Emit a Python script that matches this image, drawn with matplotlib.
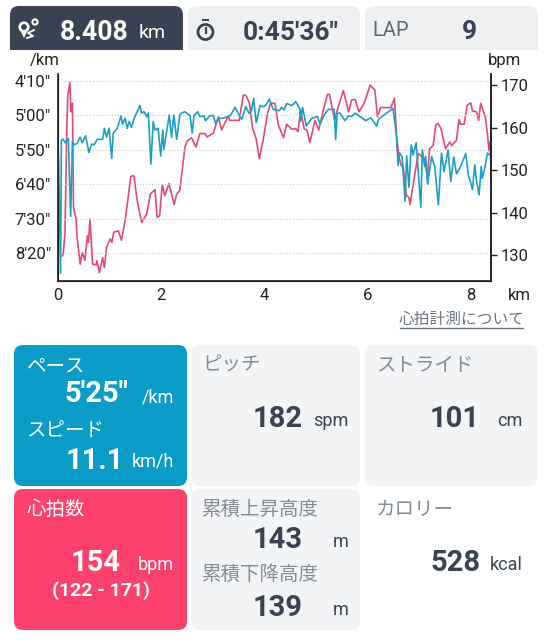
import matplotlib
matplotlib.use('Agg')
import matplotlib.pyplot as plt
from matplotlib.patches import FancyBboxPatch, Rectangle, Circle, Polygon

plt.rcParams['font.family'] = ['Roboto', 'Noto Sans CJK JP', 'DejaVu Sans']

hr_km = [.08,.10,.135,.17,.19,.23,.25,.28,.30,.35,.37,.43,.47,.52,.57,.59,.62,.67,.74,.755,.80,.865,.90,.94,1.01,1.045,1.08,1.17,1.23,1.30,1.36,1.41,1.47,1.535,1.62,1.72,1.79,1.88,1.92,1.97,2.02,2.07,2.15,2.25,2.30,2.36,2.46,2.506,2.59,2.674,2.75,2.85,2.89,3.01,3.107,3.17,3.30,3.33,3.51,3.59,3.64,3.71,3.77,3.84,3.90,3.98,4.06,4.12,4.205,4.27,4.37,4.43,4.53,4.61,4.65,4.70,4.77,4.82,4.88,4.98,5.05,5.14,5.22,5.26,5.36,5.43,5.53,5.63,5.69,5.76,5.83,5.93,6.05,6.14,6.19,6.25,6.45,6.52,6.56,6.61,6.65,6.69,6.75,6.80,6.82,6.90,6.98,7.09,7.16,7.20,7.27,7.32,7.36,7.42,7.51,7.59,7.63,7.72,7.77,7.80,7.87,7.93,8.0,8.03,8.11,8.15,8.19,8.28,8.32,8.35,8.37,8.39]
hr_bpm = [129.8,130.2,135,159.4,167.6,170.6,163.7,165.7,141.3,138.5,134.2,127.9,130.6,128.8,134.6,133,138.5,127.9,127.7,128.7,125.9,129.4,127.1,131.8,133.8,133,135.4,135.7,133.5,138.1,143.6,148.5,148.7,142.8,137.7,139.7,144.4,145.4,138.9,139.3,146.6,144,146.8,141.9,144.4,145.2,155.4,156.9,157.6,155.4,158.6,158.6,157.8,158.7,162.5,159.5,162.7,161.7,161.7,167.6,167.6,165.7,159.8,157.4,152.7,157.4,163.3,165.7,165.7,160.6,157.6,160.8,159.6,159.8,159,164.1,159.7,159.5,156.5,161.7,159.4,164.1,167.8,167.8,161.7,164.9,168.7,163.7,166.5,166.6,163.7,165.7,170,168.8,162.5,164.7,164.7,166.9,157.8,153,151.1,150.6,144,143.6,141.9,148,153.9,152.9,148.7,155,155.8,160.6,161,159.8,155,156.6,155.8,157,161.9,160.8,160.8,165.3,165.8,163.9,163.7,161.7,165.7,162.5,158.6,154.6,156.6,150]

pace_km = [.01,.05,.065,.10,.14,.20,.245,.28,.31,.37,.43,.47,.535,.60,.65,.70,.76,.865,.90,.94,.99,1.04,1.07,1.15,1.22,1.25,1.30,1.34,1.38,1.425,1.48,1.59,1.62,1.665,1.72,1.75,1.80,1.845,1.88,1.94,1.99,2.03,2.05,2.10,2.155,2.20,2.245,2.30,2.36,2.39,2.46,2.56,2.60,2.635,2.706,2.75,2.83,2.855,2.945,3.01,3.06,3.107,3.19,3.30,3.346,3.43,3.51,3.56,3.64,3.70,3.75,3.79,3.84,3.915,3.98,4.03,4.095,4.17,4.29,4.33,4.38,4.43,4.53,4.61,4.69,4.70,4.74,4.81,4.915,5.025,5.08,5.155,5.24,5.35,5.38,5.41,5.465,5.56,5.63,5.69,5.76,5.85,5.96,6.06,6.175,6.21,6.49,6.555,6.59,6.62,6.67,6.725,6.755,6.80,6.845,6.88,6.94,6.98,7.03,7.06,7.105,7.125,7.16,7.24,7.30,7.37,7.43,7.48,7.558,7.61,7.67,7.72,7.785,7.90,7.95,8.0,8.03,8.075,8.11,8.16,8.20,8.22,8.275,8.32,8.365]
pace_sec = [357.7,529,336,335,340,333.6,447,338,343,341,332,340,330,354,342,343,335,335,319,332,319,362.6,326,319,301,313,304.6,319,309,317.6,303.6,286,297,295,302,297,371,309,321.5,319,359,321.5,350,326,300,332,300,335,300,297,295,300.7,326,300.7,295,302,301,308,300.7,300.7,313,304.6,304.6,302,300,288.6,300,306,287.7,297.3,293.5,275.6,311,286,287.7,285,276.6,291.5,293.5,288.6,292.5,283,286,280.4,291.5,309,288.6,315.7,304.6,302,313,300,291.5,291.5,335,297,297,308,301,302,297,302,308,303.6,315.7,306,290,326,373,355,361,425,359,404.6,343,357.7,340,382,433.6,350.5,374.6,360,400,360,374.6,430,355,382,350.5,396,361,385,377,356,386.7,398.8,408,372,396,415.7,374.6,391.5,374.6,355,357.7]

pace_ticks = [250, 300, 350, 400, 450, 500]
pace_labels = ["4'10\"", "5'00\"", "5'50\"", "6'40\"", "7'30\"", "8'20\""]
bpm_ticks = [130, 140, 150, 160, 170]
km_ticks = [0, 2, 4, 6, 8]

W, H = 549, 640
DARK = '#3a4354'; GRAY = '#f2f4f6'; BLUE = '#0a9bc7'; RED = '#fc416c'
TXT = '#3a4354'; MUTED = '#828c98'
LINE_B = '#1c9fc4'; LINE_R = '#e24a75'

fig = plt.figure(figsize=(W/100, H/100), dpi=100, facecolor='white')
ui = fig.add_axes([0, 0, 1, 1], zorder=0)
ui.set_xlim(0, W); ui.set_ylim(H, 0); ui.axis('off')

def panel(x0, y0, x1, y1, c, r=9):
    ui.add_patch(FancyBboxPatch((x0+r, y0+r), x1-x0-2*r, y1-y0-2*r,
                 boxstyle=f'round,pad={r},rounding_size={r}', fc=c, ec='none'))

def tp(x0, x1, c):
    panel(x0, 6, x1, 50, c)
    ui.add_patch(Rectangle((x0, 30), x1-x0, 20, fc=c, ec='none'))

def t(x, y, s, size, color=TXT, weight='normal', ha='left'):
    ui.text(x, y, s, fontsize=size, color=color, fontweight=weight, ha=ha, va='baseline')

tp(10, 183, DARK); tp(188, 360, '#eef0f2'); tp(365, 538, '#eef0f2')
panel(14, 345, 187, 486, BLUE); panel(191, 345, 360, 486, GRAY); panel(365, 345, 538, 486, GRAY)
panel(14, 489, 187, 630, RED); panel(191, 489, 360, 630, GRAY)

# route icon
ui.add_patch(Circle((24, 27), 4.2, fc='none', ec='white', lw=2))
ui.add_patch(Polygon([[20, 30], [28, 30], [24, 38]], fc='white', ec='none'))
ui.add_patch(Circle((24, 27), 2.6, fc=DARK, ec='none'))
ui.add_patch(Circle((35, 22), 2.6, fc='none', ec='white', lw=1.5))
ui.plot([27, 33, 28, 34], [38, 36, 33, 30], color='white', lw=1.3)
# stopwatch icon
ui.add_patch(Circle((205.5, 32), 7.5, fc='none', ec=TXT, lw=2))
ui.add_patch(Rectangle((202, 19), 7, 2, fc=TXT, ec='none'))
ui.plot([205.5, 205.5], [28, 32.5], color=TXT, lw=1.6)

t(60, 39.5, '8.408', 19.2, 'white', 'bold')
t(139, 38.5, 'km', 14, 'white')
t(243, 40, '0:45\'36"', 19, TXT, 'bold')
t(372, 36, 'LAP', 14.5, '#5e6773')
t(462, 39, '9', 19, TXT, 'bold')

t(26.5, 371, 'ペース', 14, 'white')
t(64, 402, '5\'25"', 21, 'white', 'bold')
t(142, 403, '/km', 13, 'white')
t(26.5, 436, 'スピード', 14, 'white')
t(66, 469, '11.1', 21, 'white', 'bold')
t(132, 466, 'km/h', 13, 'white')

t(26.5, 515, '心拍数', 14, 'white')
t(71, 571, '154', 21, 'white', 'bold')
t(138, 570, 'bpm', 13, 'white')
t(100.5, 596, '(122 - 171)', 14, 'white', 'bold', ha='center')

t(202, 371, 'ピッチ', 14, MUTED)
t(253, 427, '182', 21, TXT, 'bold')
t(313, 426, 'spm', 13, TXT)
t(376, 371, 'ストライド', 14, MUTED)
t(430, 427, '101', 21, TXT, 'bold')
t(497, 426, 'cm', 13, TXT)

t(202, 515, '累積上昇高度', 14, MUTED)
t(253, 548, '143', 21, TXT, 'bold')
t(333, 547, 'm', 13, TXT)
t(202, 580, '累積下降高度', 14, MUTED)
t(253, 616, '139', 21, TXT, 'bold')
t(333, 615, 'm', 13, TXT)
t(376, 515, 'カロリー', 14, MUTED)
t(430, 571, '528', 21, TXT, 'bold')
t(490, 570, 'kcal', 13, TXT)

t(399, 324, '心拍計測について', 11.3, '#6a7482')
ui.plot([400, 523], [327.5, 327.5], color='#6a7482', lw=1)

t(30, 65, '/km', 12, '#222222')
t(488, 65, 'bpm', 12, '#222222')
t(508, 300, 'km', 12, '#222222')

# chart
L, R, T, B = 58, 491, 74, 280.7
ax = fig.add_axes([L/W, 1-B/H, (R-L)/W, (B-T)/H], zorder=2, facecolor='none')
ax.set_xlim(0, 8.39)
ax.set_ylim(540, 240.3)
ax.set_yticks(pace_ticks, pace_labels)
ax.set_xticks(km_ticks)
ax.grid(axis='y', color='#cfd1d3', ls=(0, (1, 1.5)), lw=0.9)
ax.set_axisbelow(True)
ax.tick_params(axis='y', length=0, pad=5, labelsize=12, labelcolor='#222222')
ax.tick_params(axis='x', length=0, pad=5, labelsize=12, labelcolor='#222222')
ax.spines['top'].set_visible(False)
for s in ['left', 'bottom', 'right']:
    ax.spines[s].set_linewidth(1.2); ax.spines[s].set_color('#222222')

ax2 = ax.twinx()
ax2.set_zorder(1)
ax.set_zorder(2)
ax2.set_ylim(124, 172.6)
ax2.set_yticks(bpm_ticks)
ax2.tick_params(axis='y', length=4, width=1, pad=3, labelsize=12, labelcolor='#222222', color='#222222')
ax2.spines['top'].set_visible(False)
ax2.spines['right'].set_linewidth(1.2); ax2.spines['right'].set_color('#222222')
ax2.patch.set_visible(False)

ax2.plot(hr_km, hr_bpm, color=LINE_R, lw=1.2, solid_joinstyle='round')
ax.plot(pace_km, pace_sec, color=LINE_B, lw=1.2, solid_joinstyle='round')

fig.savefig('out.png', dpi=100)
